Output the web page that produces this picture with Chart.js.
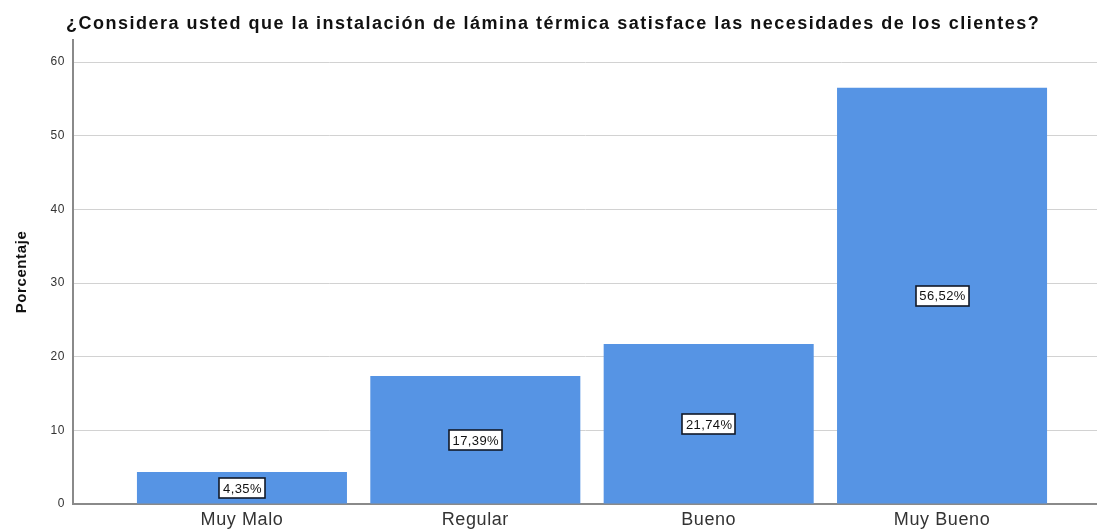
<!DOCTYPE html>
<html>
<head>
<meta charset="utf-8">
<script src="https://cdn.jsdelivr.net/npm/chart.js@4"></script>
<style>
  html, body { margin: 0; padding: 0; background: #fff; }
  #wrap { width: 1097px; height: 532px; }
</style>
</head>
<body>
<div id="wrap"><canvas id="chart" width="1097" height="532"></canvas></div>
<script>
// Survey answers and their share in percent
const categories = ['Muy Malo', 'Regular', 'Bueno', 'Muy Bueno'];
const percentages = [4.35, 17.39, 21.74, 56.52];
const yTicks = [0, 10, 20, 30, 40, 50, 60];
const chartTitle = '¿Considera usted que la instalación de lámina térmica satisface las necesidades de los clientes?';

const FONT = '"Liberation Sans", Arial, sans-serif';

// Slightly looser glyph spacing for all axis text
const textSpacing = {
    id: 'textSpacing',
    beforeDraw(chart) {
        chart.ctx.letterSpacing = '0.6px';
    }
};

// Title drawn left-aligned over the plot
const titleText = {
    id: 'titleText',
    afterDraw(chart) {
        const ctx = chart.ctx;
        ctx.save();
        ctx.letterSpacing = '1.5px';
        ctx.font = 'bold 18px ' + FONT;
        ctx.fillStyle = '#111';
        ctx.textAlign = 'left';
        ctx.textBaseline = 'middle';
        ctx.fillText(chartTitle, 66, 24);
        ctx.restore();
    }
};

// Boxed percentage drawn in the middle of each bar
const valueBoxes = {
    id: 'valueBoxes',
    afterDatasetsDraw(chart) {
        const ctx = chart.ctx;
        const meta = chart.getDatasetMeta(0);
        const yScale = chart.scales.y;
        ctx.save();
        ctx.letterSpacing = '0.4px';
        ctx.font = '13px ' + FONT;
        ctx.textAlign = 'center';
        ctx.textBaseline = 'middle';
        meta.data.forEach(function(bar, i) {
            const v = percentages[i];
            const text = v.toFixed(2).replace('.', ',') + '%';
            const cy = yScale.getPixelForValue(v / 2);
            const w = Math.round(ctx.measureText(text).width + 7);
            const h = 20;
            const x0 = Math.round(bar.x - w / 2);
            const y0 = Math.round(cy - h / 2);
            ctx.fillStyle = '#fff';
            ctx.fillRect(x0, y0, w, h);
            ctx.strokeStyle = '#111827';
            ctx.lineWidth = 1.6;
            ctx.strokeRect(x0, y0, w, h);
            ctx.fillStyle = '#111';
            ctx.fillText(text, bar.x + 0.5, cy + 1);
        });
        ctx.restore();
    }
};

new Chart(document.getElementById('chart'), {
    type: 'bar',
    data: {
        datasets: [{
            data: percentages.map((v, i) => ({ x: i, y: v })),
            backgroundColor: '#5694e4',
            borderWidth: 0,
            barPercentage: 0.9,
            categoryPercentage: 1.0
        }]
    },
    options: {
        responsive: false,
        animation: false,
        layout: { padding: { top: 40, left: 0, right: 0, bottom: 0 } },
        plugins: {
            legend: { display: false },
            tooltip: { enabled: false },
            title: { display: false }
        },
        scales: {
            x: {
                type: 'linear',
                offset: false,
                min: -0.724,
                max: 3.664,
                afterBuildTicks(scale) {
                    scale.ticks = categories.map((c, i) => ({ value: i }));
                },
                afterFit(scale) { scale.height = 28; },
                ticks: {
                    autoSkip: false,
                    maxRotation: 0,
                    padding: 5,
                    color: '#333',
                    font: { family: FONT, size: 18 },
                    callback: (v) => categories[v]
                },
                grid: { display: false, drawTicks: false },
                border: { color: '#8a8a8a', width: 2 }
            },
            y: {
                min: 0,
                max: 63,
                afterBuildTicks(scale) {
                    scale.ticks = yTicks.map(v => ({ value: v }));
                },
                afterFit(scale) { scale.width = 73; },
                ticks: {
                    color: '#333',
                    padding: 8,
                    font: { family: FONT, size: 12 }
                },
                grid: { color: '#d2d2d2', drawTicks: false },
                border: { color: '#8a8a8a', width: 2 },
                title: {
                    display: true,
                    text: 'Porcentaje',
                    color: '#111',
                    font: { family: FONT, size: 15, weight: 'bold' },
                    padding: { top: 13, bottom: 4 }
                }
            }
        }
    },
    plugins: [textSpacing, valueBoxes, titleText]
});
</script>
</body>
</html>
